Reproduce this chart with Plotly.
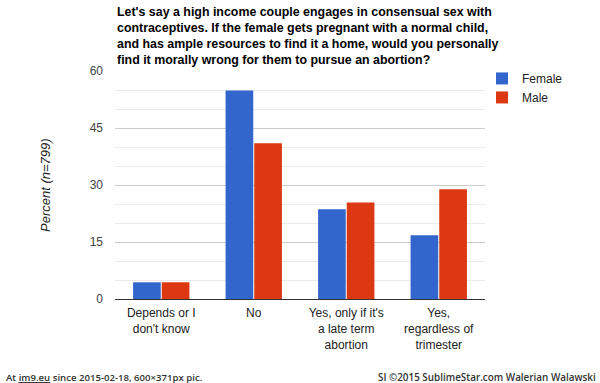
import plotly.graph_objects as go

categories = ["Depends or I<br>don't know", "No", "Yes, only if it's<br>a late term<br>abortion", "Yes,<br>regardless of<br>trimester"]
female = [4.4, 54.9, 23.6, 16.8]
male = [4.4, 41.0, 25.4, 28.9]
series_names = ["Female", "Male"]
series_colors = ["#3366CC", "#DC3912"]
y_ticks = [0, 15, 30, 45, 60]
title_lines = [
    "Let's say a high income couple engages in consensual sex with",
    "contraceptives. If the female gets pregnant with a normal child,",
    "and has ample resources to find it a home, would you personally",
    "find it morally wrong for them to pursue an abortion?",
]
y_title = "Percent (<i>n</i>=799)"
footer_left = "At <u>im9.eu</u> since 2015-02-18, 600×371px pic."
footer_right = "SI ©2015 SublimeStar.com Walerian Walawski"

FONT = "Liberation Sans, Arial, sans-serif"

fig = go.Figure()
for name, vals, col in zip(series_names, [female, male], series_colors):
    fig.add_trace(go.Bar(x=categories, y=vals, name=name, marker=dict(color=col, line=dict(width=0))))

fig.update_layout(
    width=600, height=383,
    margin=dict(l=115, r=115, t=71, b=84),
    paper_bgcolor="white", plot_bgcolor="white",
    barmode="group", bargap=0.38, bargroupgap=0.035,
    font=dict(family=FONT, size=12, color="#222222"),
    showlegend=True,
    legend=dict(x=1.0 - 3 / 370, xanchor="left", y=1.02 + 2.5 / 228, yanchor="top",
                font=dict(family=FONT, size=12, color="#222222"),
                bgcolor="rgba(0,0,0,0)", tracegroupgap=0, itemclick=False),
    xaxis=dict(showgrid=False, showline=True, linecolor="#333333", linewidth=1,
               ticks="", tickfont=dict(family=FONT, size=12, color="#222222"),
               ticklabelstandoff=3, fixedrange=True),
    yaxis=dict(range=[0, 60], tickvals=y_ticks, showgrid=True, gridcolor="#cccccc", gridwidth=1,
               zeroline=False, showline=False, ticks="",
               tickfont=dict(family=FONT, size=12, color="#444444"),
               ticklabelstandoff=11,
               minor=dict(dtick=5, showgrid=True, gridcolor="#ebebeb", gridwidth=1),
               fixedrange=True),
)

annotations = []
for i, line in enumerate(title_lines):
    annotations.append(dict(text="<b>" + line + "</b>", xref="paper", yref="paper",
                            x=0, xanchor="left", y=(299 - (12 + 16 * i)) / 228, yanchor="middle",
                            showarrow=False, font=dict(family=FONT, size=12.4, color="#000000")))
annotations.append(dict(text=y_title, xref="paper", yref="paper", x=(45 - 115) / 370, y=0.5,
                        xanchor="center", yanchor="middle", textangle=-90, showarrow=False,
                        font=dict(family=FONT, size=13, color="#222222", style="italic")))
annotations.append(dict(text=footer_left, xref="paper", yref="paper", x=(4 - 115) / 370, xanchor="left",
                        y=(299 - 377) / 228, yanchor="middle", showarrow=False,
                        font=dict(family="Open Sans, sans-serif", size=9.6, color="#333333", weight=600)))
annotations.append(dict(text=footer_right, xref="paper", yref="paper", x=(598 - 115) / 370, xanchor="right",
                        y=(299 - 377) / 228, yanchor="middle", showarrow=False,
                        font=dict(family="Open Sans, sans-serif", size=9.9, color="#333333", weight=600)))
fig.update_layout(annotations=annotations)

fig.write_html("out.html", config={"displayModeBar": False},
               post_script="document.body.style.margin='0';document.body.style.overflow='hidden';")
